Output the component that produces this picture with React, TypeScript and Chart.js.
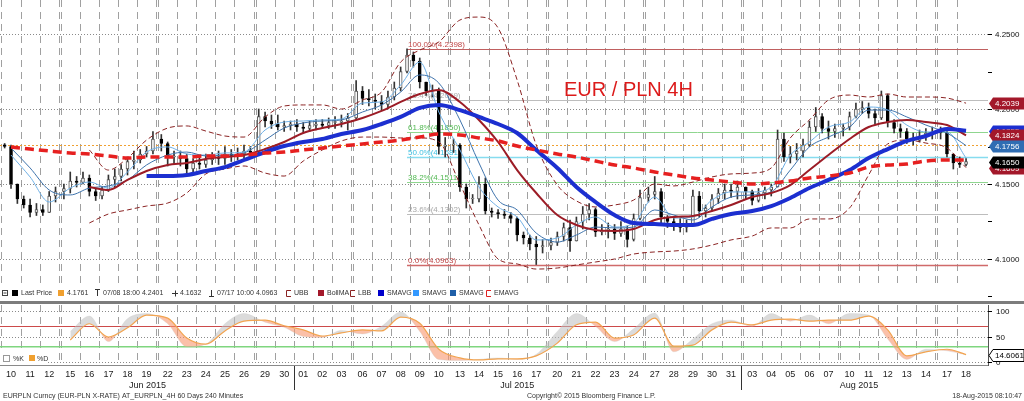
import React, { useEffect, useRef } from 'react';
import { Chart, registerables } from 'chart.js';

Chart.register(...registerables);

const FONT = '"Liberation Sans", Arial, Helvetica, sans-serif';

// ---------------- DATA ----------------
const days = [
  '2015-06-10', '2015-06-11', '2015-06-12', '2015-06-15', '2015-06-16', '2015-06-17', '2015-06-18', '2015-06-19',
  '2015-06-22', '2015-06-23', '2015-06-24', '2015-06-25', '2015-06-26', '2015-06-29', '2015-06-30',
  '2015-07-01', '2015-07-02', '2015-07-03', '2015-07-06', '2015-07-07', '2015-07-08', '2015-07-09', '2015-07-10',
  '2015-07-13', '2015-07-14', '2015-07-15', '2015-07-16', '2015-07-17', '2015-07-20', '2015-07-21', '2015-07-22',
  '2015-07-23', '2015-07-24', '2015-07-27', '2015-07-28', '2015-07-29', '2015-07-30', '2015-07-31',
  '2015-08-03', '2015-08-04', '2015-08-05', '2015-08-06', '2015-08-07', '2015-08-10', '2015-08-11', '2015-08-12',
  '2015-08-13', '2015-08-14', '2015-08-17', '2015-08-18',
];
const monthNames = ['Jan', 'Feb', 'Mar', 'Apr', 'May', 'Jun', 'Jul', 'Aug', 'Sep', 'Oct', 'Nov', 'Dec'];

// 4H candles, sampled 3 per trading day
const firstOpen = 4.1761;
const barHigh = [
  4.177, 4.176, 4.150, 4.142, 4.140, 4.137, 4.136, 4.145, 4.148, 4.150, 4.158, 4.155, 4.158, 4.156, 4.147,
  4.148, 4.156, 4.160, 4.163, 4.168, 4.172, 4.173, 4.175, 4.185, 4.183, 4.178, 4.172, 4.172, 4.170, 4.167,
  4.168, 4.170, 4.171, 4.172, 4.175, 4.173, 4.174, 4.176, 4.175, 4.200, 4.198, 4.196, 4.196, 4.192, 4.192,
  4.193, 4.191, 4.192, 4.193, 4.193, 4.194, 4.195, 4.196, 4.197, 4.219, 4.215, 4.213, 4.210, 4.209, 4.212,
  4.218, 4.228, 4.2401, 4.238, 4.234, 4.218, 4.216, 4.214, 4.181, 4.180, 4.177, 4.150, 4.143, 4.155, 4.154,
  4.134, 4.133, 4.133, 4.131, 4.128, 4.118, 4.116, 4.115, 4.113, 4.114, 4.118, 4.124, 4.126, 4.128, 4.135,
  4.137, 4.134, 4.123, 4.124, 4.123, 4.125, 4.122, 4.130, 4.146, 4.148, 4.155, 4.147, 4.129, 4.128, 4.127,
  4.126, 4.146, 4.145, 4.136, 4.143, 4.147, 4.150, 4.150, 4.152, 4.148, 4.146, 4.147, 4.148, 4.150, 4.186,
  4.184, 4.175, 4.177, 4.180, 4.192, 4.201, 4.197, 4.192, 4.190, 4.190, 4.198, 4.204, 4.205, 4.204, 4.200,
  4.212, 4.210, 4.193, 4.190, 4.187, 4.184, 4.186, 4.187, 4.188, 4.188, 4.186, 4.170, 4.168, 4.167,
];
const barLow = [
  4.174, 4.147, 4.137, 4.134, 4.128, 4.129, 4.129, 4.131, 4.138, 4.140, 4.144, 4.148, 4.150, 4.142, 4.139,
  4.140, 4.145, 4.148, 4.152, 4.156, 4.160, 4.164, 4.168, 4.170, 4.172, 4.162, 4.163, 4.162, 4.157, 4.158,
  4.160, 4.161, 4.163, 4.163, 4.163, 4.165, 4.166, 4.167, 4.168, 4.170, 4.188, 4.187, 4.186, 4.185, 4.186,
  4.185, 4.184, 4.185, 4.186, 4.187, 4.187, 4.187, 4.188, 4.186, 4.193, 4.203, 4.202, 4.200, 4.199, 4.200,
  4.206, 4.212, 4.224, 4.228, 4.214, 4.209, 4.208, 4.170, 4.168, 4.171, 4.145, 4.134, 4.137, 4.138, 4.130,
  4.128, 4.127, 4.127, 4.124, 4.112, 4.110, 4.106, 4.0963, 4.104, 4.106, 4.109, 4.112, 4.105, 4.112, 4.120,
  4.126, 4.115, 4.116, 4.114, 4.113, 4.115, 4.108, 4.112, 4.126, 4.138, 4.140, 4.124, 4.121, 4.119, 4.118,
  4.118, 4.124, 4.128, 4.128, 4.132, 4.137, 4.140, 4.141, 4.140, 4.140, 4.136, 4.138, 4.140, 4.142, 4.148,
  4.165, 4.164, 4.166, 4.168, 4.175, 4.185, 4.184, 4.180, 4.181, 4.182, 4.186, 4.194, 4.197, 4.194, 4.190,
  4.193, 4.188, 4.184, 4.181, 4.177, 4.176, 4.178, 4.179, 4.180, 4.180, 4.168, 4.160, 4.161, 4.162,
];
const barClose = [
  4.175, 4.150, 4.140, 4.136, 4.131, 4.133, 4.131, 4.142, 4.145, 4.147, 4.152, 4.151, 4.154, 4.145, 4.142,
  4.146, 4.153, 4.155, 4.160, 4.165, 4.166, 4.170, 4.172, 4.180, 4.177, 4.168, 4.168, 4.167, 4.160, 4.164,
  4.163, 4.166, 4.168, 4.167, 4.170, 4.169, 4.170, 4.172, 4.171, 4.195, 4.192, 4.190, 4.188, 4.189, 4.190,
  4.188, 4.187, 4.189, 4.190, 4.189, 4.191, 4.191, 4.192, 4.194, 4.212, 4.207, 4.206, 4.205, 4.203, 4.208,
  4.214, 4.225, 4.236, 4.232, 4.218, 4.212, 4.212, 4.175, 4.176, 4.176, 4.148, 4.140, 4.140, 4.150, 4.132,
  4.131, 4.130, 4.129, 4.127, 4.116, 4.114, 4.110, 4.108, 4.109, 4.111, 4.115, 4.121, 4.112, 4.125, 4.130,
  4.133, 4.118, 4.119, 4.120, 4.117, 4.120, 4.113, 4.127, 4.141, 4.143, 4.145, 4.128, 4.125, 4.123, 4.121,
  4.122, 4.142, 4.132, 4.134, 4.140, 4.144, 4.146, 4.145, 4.148, 4.145, 4.139, 4.144, 4.146, 4.148, 4.180,
  4.168, 4.170, 4.172, 4.176, 4.188, 4.195, 4.187, 4.185, 4.187, 4.188, 4.195, 4.200, 4.201, 4.197, 4.194,
  4.209, 4.191, 4.187, 4.185, 4.180, 4.179, 4.182, 4.184, 4.185, 4.184, 4.170, 4.164, 4.163, 4.165,
];

// Studies, one reading per trading day (null = not drawn yet)
const emaLong = [
  4.1747, 4.1733, 4.1720, 4.1707, 4.1700, 4.1687, 4.1673, 4.1680, 4.1680, 4.1680,
  4.1687, 4.1687, 4.1693, 4.1707, 4.1713, 4.1727, 4.1740, 4.1753, 4.1767, 4.1780,
  4.1793, 4.1813, 4.1833, 4.1827, 4.1807, 4.1787, 4.1753, 4.1727, 4.1700, 4.1680,
  4.1653, 4.1627, 4.1607, 4.1580, 4.1560, 4.1540, 4.1527, 4.1513, 4.1500, 4.1507,
  4.1520, 4.1540, 4.1553, 4.1573, 4.1613, 4.1627, 4.1633, 4.1653, 4.1660, 4.1660,
];
const smaSlow = [
  null, null, null, null, null, null, null, 4.1553, 4.1553, 4.1560,
  4.1587, 4.1613, 4.1660, 4.1713, 4.1753, 4.1780, 4.1800, 4.1833, 4.1860, 4.1900,
  4.1947, 4.2007, 4.2027, 4.1993, 4.1947, 4.1900, 4.1840, 4.1727, 4.1607, 4.1480,
  4.1380, 4.1293, 4.1240, 4.1233, 4.1227, 4.1227, 4.1267, 4.1300, 4.1320, 4.1353,
  4.1407, 4.1473, 4.1527, 4.1593, 4.1673, 4.1733, 4.1787, 4.1820, 4.1867, 4.1855,
];
const smaFast = [
  4.1693, 4.1547, 4.1380, 4.1473, 4.1513, 4.1473, 4.1580, 4.1713, 4.1747, 4.1700,
  4.1693, 4.1707, 4.1713, 4.1860, 4.1913, 4.1920, 4.1927, 4.1933, 4.2040, 4.2047,
  4.2160, 4.2313, 4.1980, 4.1727, 4.1480, 4.1347, 4.1280, 4.1127, 4.1140, 4.1227,
  4.1280, 4.1213, 4.1240, 4.1413, 4.1273, 4.1280, 4.1393, 4.1447, 4.1447, 4.1480,
  4.1693, 4.1780, 4.1880, 4.1913, 4.2013, 4.1993, 4.1893, 4.1847, 4.1847, 4.1673,
];
const smaMid = [
  4.1740, 4.1607, 4.1460, 4.1427, 4.1473, 4.1487, 4.1527, 4.1627, 4.1693, 4.1713,
  4.1687, 4.1693, 4.1707, 4.1793, 4.1873, 4.1907, 4.1920, 4.1927, 4.1980, 4.2027,
  4.2113, 4.2227, 4.2173, 4.1927, 4.1640, 4.1393, 4.1327, 4.1173, 4.1113, 4.1160,
  4.1213, 4.1207, 4.1213, 4.1327, 4.1293, 4.1260, 4.1347, 4.1413, 4.1427, 4.1447,
  4.1593, 4.1747, 4.1813, 4.1880, 4.1993, 4.1993, 4.1947, 4.1893, 4.1840, 4.1756,
];
const bollMid = [
  null, null, null, null, 4.1480, 4.1460, 4.1527, 4.1587, 4.1627, 4.1640,
  4.1667, 4.1680, 4.1693, 4.1733, 4.1780, 4.1840, 4.1873, 4.1900, 4.1940, 4.1987,
  4.2047, 4.2100, 4.2127, 4.2047, 4.1927, 4.1780, 4.1593, 4.1440, 4.1293, 4.1227,
  4.1193, 4.1187, 4.1200, 4.1260, 4.1280, 4.1287, 4.1320, 4.1360, 4.1413, 4.1440,
  4.1493, 4.1593, 4.1693, 4.1800, 4.1880, 4.1913, 4.1927, 4.1913, 4.1893, 4.1824,
];
const bollUpper = [
  null, null, null, null, 4.1727, 4.1593, 4.1673, 4.1793, 4.1873, 4.1887,
  4.1853, 4.1820, 4.1813, 4.1947, 4.2020, 4.2027, 4.2027, 4.2000, 4.2060, 4.2113,
  4.2313, 4.2393, 4.2447, 4.2593, 4.2613, 4.2540, 4.2193, 4.1760, 4.1493, 4.1387,
  4.1347, 4.1360, 4.1393, 4.1500, 4.1487, 4.1513, 4.1547, 4.1567, 4.1573, 4.1607,
  4.1807, 4.1927, 4.2060, 4.2093, 4.2080, 4.2100, 4.2080, 4.2080, 4.2073, 4.2039,
];
const bollLower = [
  null, null, null, null, 4.1240, 4.1300, 4.1327, 4.1353, 4.1373, 4.1440,
  4.1567, 4.1600, 4.1620, 4.1573, 4.1553, 4.1653, 4.1727, 4.1787, 4.1813, 4.1813,
  4.1807, 4.1807, 4.1780, 4.1500, 4.1227, 4.1000, 4.0967, 4.0933, 4.0940, 4.0960,
  4.0980, 4.1000, 4.1033, 4.1047, 4.1053, 4.1067, 4.1093, 4.1127, 4.1153, 4.1207,
  4.1207, 4.1267, 4.1267, 4.1340, 4.1560, 4.1767, 4.1793, 4.1773, 4.1740, 4.1609,
];
const stochD = [
  null, null, null, 43, 75, 49, 67, 92, 86, 47,
  35, 61, 80, 82, 71, 63, 51, 57, 63, 61,
  88, 76, 25, 8, 4, 6, 6, 12, 37, 73,
  78, 47, 53, 86, 31, 33, 63, 78, 73, 82,
  84, 80, 82, 82, 90, 63, 12, 20, 25, 14.6061,
];
const stochK = [
  null, null, null, 60, 90, 40, 85, 95, 75, 30,
  35, 75, 95, 78, 68, 50, 48, 62, 55, 70,
  98, 60, 5, 3, 5, 8, 5, 15, 60, 95,
  70, 40, 65, 96, 20, 45, 75, 82, 70, 95,
  80, 92, 75, 95, 92, 45, 5, 25, 22, 14,
];

const fibHigh = 4.2398;
const fibLow = 4.0963;
const fibRatios = [1, 0.764, 0.618, 0.5, 0.382, 0.236, 0];
const lastPriceRef = 4.1761;

const priceMajor = [4.10, 4.15, 4.20, 4.25];
const priceMinor = [4.075, 4.125, 4.175, 4.225];
const oscTicks = [0, 50, 100];
const oscUpper = 70;
const oscLower = 30;

const tagValues = [4.1855, 4.2039, 4.1824, 4.1756, 4.1609, 4.1650];
const tagColors = ['#1c2fd0', '#a3182a', '#a3182a', '#2f6db3', '#a3182a', '#000000'];
const oscTagValue = 14.6061;

const legendItems = [
  { kind: 'box', color: '#000000', x: 12, text: 'Last Price' },
  { kind: 'box', color: '#f0a030', x: 58, text: '4.1761' },
  { kind: 'top', color: '#333333', x: 95, text: '07/08 18:00 4.2401' },
  { kind: 'plus', color: '#333333', x: 172, text: '4.1632' },
  { kind: 'bot', color: '#333333', x: 209, text: '07/17 10:00 4.0963' },
  { kind: 'dash', color: '#8b2323', x: 286, text: 'UBB' },
  { kind: 'box', color: '#a3182a', x: 318, text: 'BollMA' },
  { kind: 'dash', color: '#8b2323', x: 350, text: 'LBB' },
  { kind: 'box', color: '#0000cc', x: 378, text: 'SMAVG' },
  { kind: 'box', color: '#3399ff', x: 413, text: 'SMAVG' },
  { kind: 'box', color: '#1f5fa8', x: 450, text: 'SMAVG' },
  { kind: 'dash', color: '#e02020', x: 486, text: 'EMAVG' },
];

// ---------------- LAYOUT ----------------
const WEEKEND_GAP = 0.105;
const BARS_PER_DAY = 3;
const X_MIN = -0.077;
const X_MAX = 51.7;
const Y_MAX = 4.272667;
const Y_MIN = 4.029333;
const OSC_MAX = 709.8;
const OSC_MIN = -5.88;
const MAIN_BOTTOM = 284;
const OSC_TOP = 305;
const OSC_BOTTOM = 365;

const dayTimes = days.map((d) => Date.parse(d + 'T00:00:00Z'));
const dayPos: number[] = [];
{
  let gaps = 0;
  dayTimes.forEach((t, i) => {
    if (i > 0 && t - dayTimes[i - 1] > 1.5 * 86400000) gaps++;
    dayPos.push(i + gaps * WEEKEND_GAP);
  });
}
const nBars = Math.min(barHigh.length, barLow.length, barClose.length);
const barX = Array.from({ length: nBars }, (_, j) =>
  dayPos[Math.floor(j / BARS_PER_DAY)] + ((j % BARS_PER_DAY) + 0.5) / BARS_PER_DAY);
const barOpen = barClose.slice(0, nBars).map((_, j) => (j === 0 ? firstOpen : barClose[j - 1]));
const isUp = barClose.slice(0, nBars).map((c, j) => c >= barOpen[j]);

const daily = (arr: (number | null)[]) =>
  arr.map((v, i) => (v == null || i >= dayPos.length ? null : { x: dayPos[i] + 0.5, y: v })).filter(Boolean);

function lineDs(data: any[], color: string, width: number, order: number, dash: number[] = [], axis = 'y') {
  return {
    type: 'line', data, borderColor: color, borderWidth: width, borderDash: dash,
    pointRadius: 0, tension: 0.4, cubicInterpolationMode: 'monotone', fill: false,
    yAxisID: axis, order,
  };
}

function text(ctx: any, s: string, x: number, y: number, size: number, color: string, align = 'left', base = 'middle') {
  ctx.font = `${size}px ${FONT}`;
  ctx.fillStyle = color;
  ctx.textAlign = align;
  ctx.textBaseline = base;
  ctx.fillText(s, x, y);
}

function tag(ctx: any, py: number, fill: string, stroke: string | null, s: string, tc: string) {
  const x0 = 989, x1 = 1024, h = 6;
  ctx.beginPath();
  ctx.moveTo(x0, py);
  ctx.lineTo(x0 + 4, py - h);
  ctx.lineTo(x1, py - h);
  ctx.lineTo(x1, py + h);
  ctx.lineTo(x0 + 4, py + h);
  ctx.closePath();
  ctx.fillStyle = fill;
  ctx.fill();
  if (stroke) { ctx.setLineDash([]); ctx.strokeStyle = stroke; ctx.lineWidth = 1; ctx.stroke(); }
  text(ctx, s, x0 + 6, py + 0.5, 8, tc);
}

const bbgPlugin = {
  id: 'bbg',
  beforeDraw(chart: any) {
    const { ctx } = chart;
    ctx.save();
    ctx.fillStyle = '#ffffff';
    ctx.fillRect(0, 0, chart.width, chart.height);
    ctx.restore();
  },
  beforeDatasetsDraw(chart: any) {
    const { ctx, chartArea } = chart;
    const xs = chart.scales.x, ys = chart.scales.y, os = chart.scales.y2;
    const R = chartArea.right;
    ctx.save();
    // vertical day separators (double at weekends)
    ctx.strokeStyle = '#a0a0a0';
    ctx.lineWidth = 1;
    ctx.setLineDash([7, 5]);
    const vl: number[] = [];
    dayPos.forEach((p, i) => {
      if (i > 0 && p - dayPos[i - 1] > 1.01) vl.push(dayPos[i - 1] + 1);
      vl.push(p);
    });
    vl.forEach((v) => {
      const px = Math.round(xs.getPixelForValue(v)) + 0.5;
      ctx.beginPath();
      ctx.moveTo(px, 0); ctx.lineTo(px, MAIN_BOTTOM);
      ctx.moveTo(px, OSC_TOP); ctx.lineTo(px, OSC_BOTTOM);
      ctx.stroke();
    });
    // dotted horizontal grid
    ctx.setLineDash([1, 2]);
    ctx.strokeStyle = '#8a8a8a';
    priceMajor.forEach((v) => {
      const py = Math.round(ys.getPixelForValue(v)) + 0.5;
      ctx.beginPath(); ctx.moveTo(0, py); ctx.lineTo(R, py); ctx.stroke();
    });
    oscTicks.forEach((v) => {
      const py = Math.round(os.getPixelForValue(v)) + 0.5;
      ctx.beginPath(); ctx.moveTo(0, py); ctx.lineTo(R, py); ctx.stroke();
    });
    // oscillator bands
    ctx.setLineDash([]);
    ctx.lineWidth = 1;
    ctx.strokeStyle = '#cc4a4a';
    let py = Math.round(os.getPixelForValue(oscUpper)) + 0.5;
    ctx.beginPath(); ctx.moveTo(0, py); ctx.lineTo(R, py); ctx.stroke();
    ctx.strokeStyle = '#7fd67f';
    ctx.lineWidth = 1.5;
    py = os.getPixelForValue(oscLower);
    ctx.beginPath(); ctx.moveTo(0, py); ctx.lineTo(R, py); ctx.stroke();

    // Fibonacci retracement
    let hiIdx = 0;
    for (let j = 1; j < nBars; j++) if (barHigh[j] > barHigh[hiIdx]) hiIdx = j;
    const fx = xs.getPixelForValue(barX[hiIdx]);
    const fibLine = ['#c06060', '#bdbdbd', '#8fd68f', '#86dcef', '#8fd68f', '#bdbdbd', '#d06a6a'];
    const fibText = ['#c04848', '#a8a8a8', '#52b852', '#3cbfe0', '#52b852', '#a8a8a8', '#c04848'];
    const fibW = [1, 1, 1, 1.5, 1, 1, 1.5];
    fibRatios.forEach((r, k) => {
      const val = fibLow + r * (fibHigh - fibLow);
      const yy = Math.round(ys.getPixelForValue(val)) + 0.5;
      ctx.strokeStyle = fibLine[k];
      ctx.lineWidth = fibW[k];
      ctx.beginPath(); ctx.moveTo(fx, yy); ctx.lineTo(R, yy); ctx.stroke();
      text(ctx, `${(r * 100).toFixed(1)}%(${val.toFixed(4)})`, fx + 1, yy - 1, 8, fibText[k], 'left', 'bottom');
    });
    // last price reference line
    ctx.setLineDash([2, 2]);
    ctx.strokeStyle = '#f0a030';
    ctx.lineWidth = 1;
    py = Math.round(ys.getPixelForValue(lastPriceRef)) + 0.5;
    ctx.beginPath(); ctx.moveTo(0, py); ctx.lineTo(R, py); ctx.stroke();
    ctx.restore();
  },
  afterDatasetsDraw(chart: any) {
    const { ctx } = chart;
    ctx.save();
    // legend band
    ctx.fillStyle = '#ffffff';
    ctx.fillRect(0, MAIN_BOTTOM, 1024, 17);
    ctx.fillStyle = '#7c7c7c';
    ctx.fillRect(0, 301, 1024, 3);
    const ly = 293;
    // collapse icon
    ctx.strokeStyle = '#444'; ctx.lineWidth = 1; ctx.setLineDash([]);
    ctx.strokeRect(2.5, 290.5, 5, 5);
    ctx.beginPath(); ctx.moveTo(3.5, 293); ctx.lineTo(6.5, 293); ctx.stroke();
    legendItems.forEach((it) => {
      ctx.fillStyle = it.color; ctx.strokeStyle = it.color; ctx.lineWidth = 1; ctx.setLineDash([]);
      let tx = it.x + 8;
      if (it.kind === 'box') {
        ctx.fillRect(it.x, 290, 6, 6);
        tx = it.x + 9;
      } else if (it.kind === 'top') {
        ctx.beginPath(); ctx.moveTo(it.x, 289.5); ctx.lineTo(it.x + 5, 289.5);
        ctx.moveTo(it.x + 2.5, 289.5); ctx.lineTo(it.x + 2.5, 296); ctx.stroke();
      } else if (it.kind === 'bot') {
        ctx.beginPath(); ctx.moveTo(it.x, 296.5); ctx.lineTo(it.x + 5, 296.5);
        ctx.moveTo(it.x + 2.5, 290); ctx.lineTo(it.x + 2.5, 296.5); ctx.stroke();
      } else if (it.kind === 'plus') {
        ctx.beginPath(); ctx.moveTo(it.x, 293.5); ctx.lineTo(it.x + 6, 293.5);
        ctx.moveTo(it.x + 3.5, 290.5); ctx.lineTo(it.x + 3.5, 296.5); ctx.stroke();
      } else if (it.kind === 'dash') {
        ctx.beginPath(); ctx.moveTo(it.x + 5, 290.5); ctx.lineTo(it.x + 0.5, 290.5);
        ctx.lineTo(it.x + 0.5, 296.5); ctx.lineTo(it.x + 5, 296.5); ctx.stroke();
      }
      text(ctx, it.text, tx, ly, 7, '#333333');
    });
    // oscillator legend
    ctx.fillStyle = '#ffffff';
    ctx.fillRect(0, 351, 48, 13);
    ctx.strokeStyle = '#999'; ctx.lineWidth = 1;
    ctx.strokeRect(3.5, 355.5, 6, 6);
    text(ctx, '%K', 13, 359, 7, '#333333');
    ctx.fillStyle = '#f0a030';
    ctx.fillRect(29, 355, 6, 6);
    text(ctx, '%D', 37, 359, 7, '#333333');
    // title
    text(ctx, 'EUR / PLN 4H', 564, 96, 20, '#dc1a1a', 'left', 'alphabetic');
    ctx.restore();
  },
  afterDraw(chart: any) {
    const { ctx, chartArea } = chart;
    const xs = chart.scales.x, ys = chart.scales.y, os = chart.scales.y2;
    const R = chartArea.right;
    ctx.save();
    ctx.setLineDash([]);
    // frame of oscillator / axis baseline
    ctx.strokeStyle = '#8a8a8a'; ctx.lineWidth = 1;
    ctx.beginPath(); ctx.moveTo(0, OSC_BOTTOM + 0.5); ctx.lineTo(R + 1, OSC_BOTTOM + 0.5); ctx.stroke();
    ctx.strokeStyle = '#555';
    ctx.beginPath(); ctx.moveTo(R + 0.5, OSC_TOP); ctx.lineTo(R + 0.5, OSC_BOTTOM + 1); ctx.stroke();
    // price ticks
    ctx.strokeStyle = '#000';
    [...priceMajor, ...priceMinor].forEach((v) => {
      const py = Math.round(ys.getPixelForValue(v)) + 0.5;
      ctx.beginPath(); ctx.moveTo(R, py); ctx.lineTo(R + 4, py); ctx.stroke();
    });
    priceMajor.forEach((v) => text(ctx, v.toFixed(4), R + 7, ys.getPixelForValue(v) + 0.5, 8, '#111'));
    // value tags
    tagValues.forEach((v, k) => {
      const py = Math.round(ys.getPixelForValue(v));
      tag(ctx, py + 0.5, tagColors[k], null, v.toFixed(4), '#ffffff');
    });
    // oscillator ticks
    oscTicks.forEach((v) => {
      const py = Math.round(os.getPixelForValue(v)) + 0.5;
      ctx.strokeStyle = '#000';
      ctx.beginPath(); ctx.moveTo(R, py); ctx.lineTo(R + 4, py); ctx.stroke();
      text(ctx, String(v), R + 8, py, 8, '#111');
    });
    tag(ctx, Math.round(os.getPixelForValue(oscTagValue)) + 0.5, '#ffffff', '#000000', oscTagValue.toFixed(4), '#000000');
    // day labels
    days.forEach((d, i) => {
      const dd = new Date(dayTimes[i]);
      const lbl = String(dd.getUTCDate()).padStart(2, '0');
      text(ctx, lbl, xs.getPixelForValue(dayPos[i] + 0.5), 375, 9, '#222', 'center');
    });
    // month labels and separators
    const months: { m: number; y: number; first: number; last: number }[] = [];
    days.forEach((d, i) => {
      const dd = new Date(dayTimes[i]);
      const m = dd.getUTCMonth();
      const cur = months[months.length - 1];
      if (!cur || cur.m !== m) months.push({ m, y: dd.getUTCFullYear(), first: i, last: i });
      else cur.last = i;
    });
    months.forEach((mo, k) => {
      const a = xs.getPixelForValue(dayPos[mo.first]);
      const b = xs.getPixelForValue(dayPos[mo.last] + 1);
      text(ctx, `${monthNames[mo.m]} ${mo.y}`, (a + b) / 2, 386, 9, '#222', 'center');
      if (k < months.length - 1) {
        const sx = Math.round(b) + 0.5;
        ctx.strokeStyle = '#333';
        ctx.beginPath(); ctx.moveTo(sx, OSC_BOTTOM + 1); ctx.lineTo(sx, 390); ctx.stroke();
      }
    });
    // footer
    text(ctx, 'EURPLN Curncy (EUR-PLN X-RATE) AT_EURPLN_4H 60 Days 240 Minutes', 3, 396, 7, '#333');
    text(ctx, 'Copyright\u00A9 2015 Bloomberg Finance L.P.', 527, 396, 7, '#333');
    text(ctx, '18-Aug-2015 08:10:47', 1022, 396, 7, '#333', 'right');
    ctx.restore();
  },
};

export default function App() {
  const ref = useRef<HTMLCanvasElement>(null);
  useEffect(() => {
    const canvas = ref.current;
    if (!canvas) return;
    const wicks = {
      type: 'bar',
      data: barX.map((x, j) => ({ x, y: [barLow[j], barHigh[j]] })),
      backgroundColor: '#333333', borderWidth: 0, barThickness: 1, grouped: false,
      yAxisID: 'y', order: 20,
    };
    const bodies = {
      type: 'bar',
      data: barX.map((x, j) => ({ x, y: [barOpen[j], barClose[j]] })),
      backgroundColor: isUp.map((u) => (u ? '#ffffff' : '#000000')),
      borderColor: isUp.map((u) => (u ? '#555555' : '#000000')),
      borderWidth: 1, borderSkipped: false, barThickness: 3, minBarLength: 1, grouped: false,
      yAxisID: 'y', order: 19,
    };
    const datasets: any[] = [
      wicks,
      bodies,
      lineDs(daily(bollUpper), '#8b2323', 1, 12, [5, 3]),
      lineDs(daily(bollLower), '#8b2323', 1, 12, [5, 3]),
      lineDs(daily(smaFast), '#6fb0e6', 1, 11),
      lineDs(daily(smaMid), '#3f74ad', 1, 10),
      lineDs(daily(bollMid), '#9c1c26', 2, 9),
      lineDs(daily(smaSlow), '#1c2fd0', 4, 8),
      lineDs(daily(emaLong), '#e62020', 3.5, 7, [9, 5]),
    ];
    const dIndex = datasets.length;
    datasets.push(lineDs(daily(stochD), '#f2a450', 1.2, 2, [], 'y2'));
    const kDs: any = lineDs(daily(stochK), 'rgba(200,200,200,0.6)', 0.5, 3, [], 'y2');
    kDs.fill = { target: dIndex, above: 'rgba(190,190,190,0.55)', below: 'rgba(248,150,110,0.6)' };
    datasets.push(kDs);

    const chart = new Chart(canvas, {
      type: 'line',
      data: { datasets },
      options: {
        animation: false,
        responsive: false,
        maintainAspectRatio: false,
        devicePixelRatio: 1,
        layout: { padding: { left: 0, right: 36, top: 0, bottom: 36 } },
        plugins: { legend: { display: false }, tooltip: { enabled: false } },
        scales: {
          x: { type: 'linear', display: false, min: X_MIN, max: X_MAX, offset: false, grid: { offset: false } },
          y: { type: 'linear', display: false, min: Y_MIN, max: Y_MAX },
          y2: { type: 'linear', display: false, min: OSC_MIN, max: OSC_MAX },
        },
      },
      plugins: [bbgPlugin],
    } as any);
    return () => chart.destroy();
  }, []);
  return (
    <div style={{ position: 'fixed', left: 0, top: 0, width: 1024, height: 401, background: '#ffffff' }}>
      <canvas ref={ref} width={1024} height={401} style={{ width: 1024, height: 401, display: 'block' }} />
    </div>
  );
}
